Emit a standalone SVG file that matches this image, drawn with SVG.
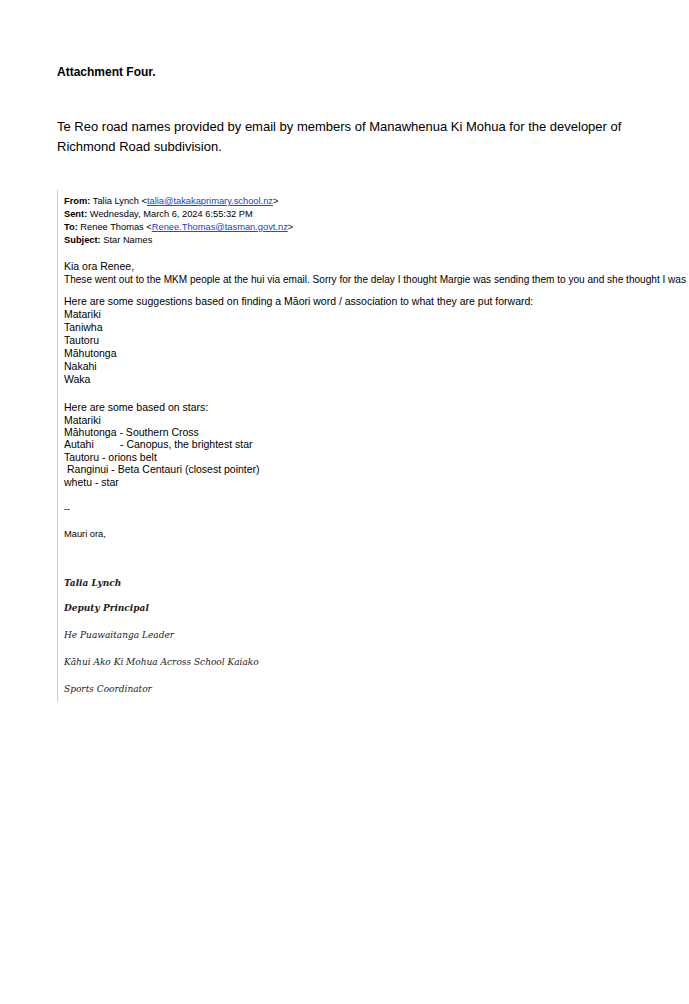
<svg xmlns="http://www.w3.org/2000/svg" width="689" height="1004" viewBox="0 0 689 1004">
<style>
.t{font-family:"Liberation Sans",Arial,sans-serif;fill:#000;white-space:pre}
.h{font-size:9.3px}
.e{font-size:10.5px}
.s{font-family:"DejaVu Serif","Liberation Serif",serif;font-style:italic;font-size:9px;fill:#222}
.l{fill:#1a3ccc;text-decoration:underline}
</style>
<rect width="689" height="1004" fill="#fff"/>
<text class="t" x="57" y="76" font-size="12" font-weight="bold">Attachment Four.</text>
<text class="t" x="57" y="131" font-size="13">Te Reo road names provided by email by members of Manawhenua Ki Mohua for the developer of</text>
<text class="t" x="57" y="151" font-size="13">Richmond Road subdivision.</text>
<line x1="57.5" y1="190" x2="57.5" y2="702" stroke="#ccc" stroke-width="1"/>
<g class="t h">
<text x="64" y="204"><tspan font-weight="bold">From:</tspan> Talia Lynch &lt;<tspan class="l">talia@takakaprimary.school.nz</tspan>&gt;</text>
<text x="64" y="217"><tspan font-weight="bold">Sent:</tspan> Wednesday, March 6, 2024 6:55:32 PM</text>
<text x="64" y="230"><tspan font-weight="bold">To:</tspan> Renee Thomas &lt;<tspan class="l">Renee.Thomas@tasman.govt.nz</tspan>&gt;</text>
<text x="64" y="243"><tspan font-weight="bold">Subject:</tspan> Star Names</text>
</g>
<g class="t e">
<text x="64" y="270">Kia ora Renee,</text>
<text x="64" y="283" textLength="622" lengthAdjust="spacingAndGlyphs">These went out to the MKM people at the hui via email. Sorry for the delay I thought Margie was sending them to you and she thought I was</text>
<text x="64" y="305">Here are some suggestions based on finding a Māori word / association to what they are put forward:</text>
<text x="64" y="318">Matariki</text>
<text x="64" y="331">Taniwha</text>
<text x="64" y="344">Tautoru</text>
<text x="64" y="357">Māhutonga</text>
<text x="64" y="370">Nakahi</text>
<text x="64" y="383">Waka</text>
<text x="64" y="411">Here are some based on stars:</text>
<text x="64" y="424">Matariki</text>
<text x="64" y="436">Māhutonga  - Southern Cross</text>
<text x="64" y="448">Autahi</text><text x="120" y="448">- Canopus, the brightest star</text>
<text x="64" y="461">Tautoru  - orions belt</text>
<text x="67" y="473">Ranginui   - Beta Centauri (closest pointer)</text>
<text x="64" y="486">whetu - star</text>
</g>
<g class="t h">
<text x="64" y="512">--</text>
<text x="64" y="537">Mauri ora,</text>
</g>
<g class="s">
<text x="64" y="586" font-weight="bold">Talia Lynch</text>
<text x="64" y="611" font-weight="bold">Deputy Principal</text>
<text x="64" y="638">He Puawaitanga Leader</text>
<text x="64" y="665">Kāhui Ako Ki Mohua Across School Kaiako</text>
<text x="64" y="692">Sports Coordinator</text>
</g>
</svg>
